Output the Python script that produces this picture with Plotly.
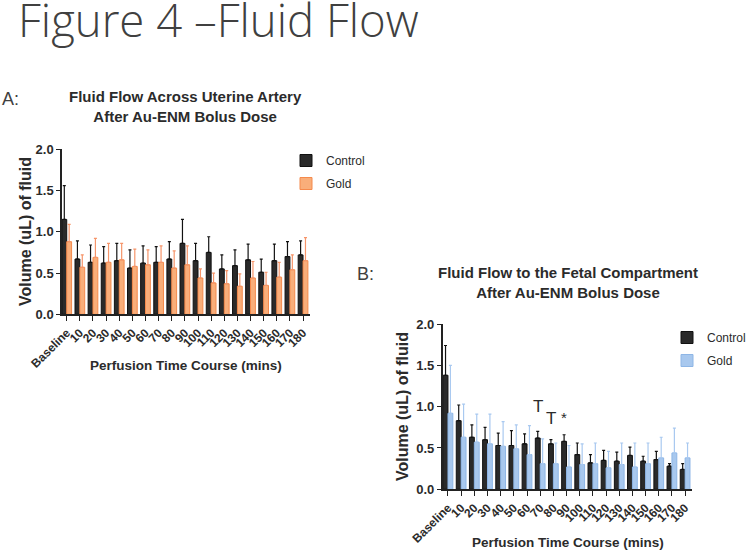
import plotly.graph_objects as go

categories = ["Baseline", "10", "20", "30", "40", "50", "60", "70", "80", "90",
              "100", "110", "120", "130", "140", "150", "160", "170", "180"]

# Panel A: Fluid flow across uterine artery
a_control = [1.15, 0.67, 0.63, 0.62, 0.65, 0.56, 0.62, 0.63, 0.67, 0.86,
             0.65, 0.75, 0.55, 0.59, 0.66, 0.51, 0.65, 0.70, 0.72]
a_control_top = [1.56, 0.89, 0.84, 0.82, 0.86, 0.78, 0.83, 0.82, 0.88, 1.15,
                 0.86, 0.94, 0.72, 0.78, 0.85, 0.67, 0.85, 0.88, 0.89]
a_gold = [0.88, 0.57, 0.69, 0.63, 0.66, 0.58, 0.60, 0.63, 0.56, 0.60,
          0.44, 0.38, 0.37, 0.34, 0.44, 0.35, 0.45, 0.54, 0.65]
a_gold_top = [1.09, 0.72, 0.92, 0.86, 0.86, 0.79, 0.78, 0.83, 0.77, 0.83,
              0.55, 0.50, 0.53, 0.49, 0.64, 0.51, 0.63, 0.72, 0.93]

# Panel B: Fluid flow to the fetal compartment
b_control = [1.38, 0.83, 0.63, 0.60, 0.53, 0.53, 0.55, 0.62, 0.55, 0.58,
             0.42, 0.32, 0.35, 0.34, 0.41, 0.34, 0.36, 0.28, 0.24]
b_control_top = [1.74, 1.02, 0.78, 0.75, 0.68, 0.71, 0.67, 0.70, 0.60, 0.66,
                 0.56, 0.42, 0.47, 0.45, 0.51, 0.40, 0.46, 0.31, 0.31]
b_gold = [0.92, 0.63, 0.57, 0.55, 0.52, 0.49, 0.42, 0.31, 0.31, 0.27,
          0.30, 0.31, 0.26, 0.30, 0.27, 0.31, 0.38, 0.44, 0.38]
b_gold_top = [1.50, 1.03, 0.91, 0.91, 0.82, 0.78, 0.77, 0.61, 0.56, 0.53,
              0.55, 0.56, 0.46, 0.56, 0.56, 0.56, 0.63, 0.74, 0.56]

# Significance marks in panel B
sig_categories = ["70", "80", "90"]
sig_labels = ["T", "T", "*"]
sig_values = [1.0, 0.86, 0.87]

W, H = 750, 550
FONT = "Liberation Sans, Arial, sans-serif"
TXT = "#2b2b2b"


def px(x):
    return x / W


def py(y):
    return 1 - y / H


def err(top, val):
    return [t - v for t, v in zip(top, val)]


idx = list(range(len(categories)))
BW = 0.37

fig = go.Figure()


def add_bars(xaxis, yaxis, vals, tops, name, fill, line, ecolor, offset, legend, group):
    fig.add_trace(go.Bar(
        x=idx, y=vals, width=BW, offset=offset, name=name,
        marker=dict(color=fill, line=dict(color=line, width=1)),
        error_y=dict(type="data", array=err(tops, vals), arrayminus=[0] * len(vals),
                     symmetric=False, color=ecolor, thickness=1.2, width=1.5),
        xaxis=xaxis, yaxis=yaxis, legend=legend, legendgroup=group, showlegend=True,
    ))


add_bars("x", "y", a_control, a_control_top, "Control", "#2a2a2a", "#111111", "#111111", -BW, "legend", "ac")
add_bars("x", "y", a_gold, a_gold_top, "Gold", "#f9ae7a", "#f58a4c", "#f6956a", 0, "legend", "ag")
add_bars("x2", "y2", b_control, b_control_top, "Control", "#2a2a2a", "#111111", "#111111", -BW, "legend2", "bc")
add_bars("x2", "y2", b_gold, b_gold_top, "Gold", "#a8c8ee", "#8eb6e6", "#a9c9f0", 0, "legend2", "bg")

tickfont = dict(family=FONT, size=12, color=TXT)
ytickfont = dict(family=FONT, size=13, color=TXT)

common_x = dict(type="linear", tickmode="array", tickvals=idx,
                ticktext=["<b>%s</b>" % c for c in categories], tickangle=-45,
                showline=True, linecolor="#222222", linewidth=1.5, ticks="outside",
                ticklen=5, tickcolor="#222222", tickwidth=1.2, showgrid=False,
                zeroline=False, tickfont=tickfont, automargin=False)
common_y = dict(range=[0, 2], tickvals=[0, 0.5, 1.0, 1.5, 2.0],
                ticktext=["<b>0.0</b>", "<b>0.5</b>", "<b>1.0</b>", "<b>1.5</b>", "<b>2.0</b>"],
                showline=True, linecolor="#222222", linewidth=1.5, ticks="outside",
                ticklen=4, tickcolor="#222222", tickwidth=1.2, showgrid=False,
                zeroline=False, tickfont=ytickfont, automargin=False)

legfont = dict(family=FONT, size=12, color=TXT)
fig.update_layout(
    width=W, height=H, margin=dict(l=0, r=0, t=0, b=0, autoexpand=False),
    paper_bgcolor="white", plot_bgcolor="white", barmode="overlay",
    font=dict(family=FONT, color=TXT),
    xaxis=dict(domain=[px(62), px(310)], range=[-0.36, 18.53], anchor="y", **common_x),
    yaxis=dict(domain=[py(314.3), py(149.3)], anchor="x", **common_y),
    xaxis2=dict(domain=[px(442.7), px(691.7)], range=[-0.4, 18.5], anchor="y2", **common_x),
    yaxis2=dict(domain=[py(489.3), py(324)], anchor="x2", **common_y),
    legend=dict(x=px(286), y=py(146), xanchor="left", yanchor="top", font=legfont,
                bgcolor="rgba(0,0,0,0)", tracegroupgap=4, itemwidth=30),
    legend2=dict(x=px(667), y=py(323), xanchor="left", yanchor="top", font=legfont,
                 bgcolor="rgba(0,0,0,0)", tracegroupgap=4, itemwidth=30),
)

ann = []
ann.append(dict(text="Figure 4 \u2013Fluid Flow", x=px(16), y=py(52), xref="paper", yref="paper",
                xanchor="left", yanchor="bottom", showarrow=False,
                font=dict(family="Open Sans, sans-serif", size=45.5, color="#404040", weight=300)))
ann.append(dict(text="A:", x=px(0), y=py(99), xref="paper", yref="paper", xanchor="left",
                yanchor="middle", showarrow=False,
                font=dict(family=FONT, size=18, color="#404040")))
ann.append(dict(text="B:", x=px(355), y=py(274), xref="paper", yref="paper", xanchor="left",
                yanchor="middle", showarrow=False,
                font=dict(family=FONT, size=18, color="#404040")))
ann.append(dict(text="<b>Fluid Flow Across Uterine Artery<br>After Au-ENM Bolus Dose</b>",
                x=px(185), y=py(106), xref="paper", yref="paper", xanchor="center",
                yanchor="middle", showarrow=False,
                font=dict(family=FONT, size=15, color=TXT)))
ann.append(dict(text="<b>Fluid Flow to the Fetal Compartment<br>After Au-ENM Bolus Dose</b>",
                x=px(568), y=py(282), xref="paper", yref="paper", xanchor="center",
                yanchor="middle", showarrow=False,
                font=dict(family=FONT, size=15, color=TXT)))
ann.append(dict(text="<b>Volume (uL) of fluid</b>", x=px(25), y=py(232), xref="paper",
                yref="paper", xanchor="center", yanchor="middle", textangle=-90,
                showarrow=False, font=dict(family=FONT, size=16, color=TXT)))
ann.append(dict(text="<b>Volume (uL) of fluid</b>", x=px(402), y=py(407), xref="paper",
                yref="paper", xanchor="center", yanchor="middle", textangle=-90,
                showarrow=False, font=dict(family=FONT, size=16, color=TXT)))
ann.append(dict(text="<b>Perfusion Time Course (mins)</b>", x=px(186), y=py(365), xref="paper",
                yref="paper", xanchor="center", yanchor="middle", showarrow=False,
                font=dict(family=FONT, size=13.5, color=TXT)))
ann.append(dict(text="<b>Perfusion Time Course (mins)</b>", x=px(568), y=py(542), xref="paper",
                yref="paper", xanchor="center", yanchor="middle", showarrow=False,
                font=dict(family=FONT, size=13.5, color=TXT)))
for c, lab, v in zip(sig_categories, sig_labels, sig_values):
    ann.append(dict(text=lab, x=categories.index(c) - BW / 2, y=v, xref="x2", yref="y2",
                    xanchor="center", yanchor="middle", showarrow=False,
                    font=dict(family=FONT, size=17 if lab == "T" else 15, color=TXT)))
fig.update_layout(annotations=ann)

fig.write_html("out.html", config={"displayModeBar": False},
               post_script="document.body.style.margin='0';document.body.style.overflow='hidden';")
